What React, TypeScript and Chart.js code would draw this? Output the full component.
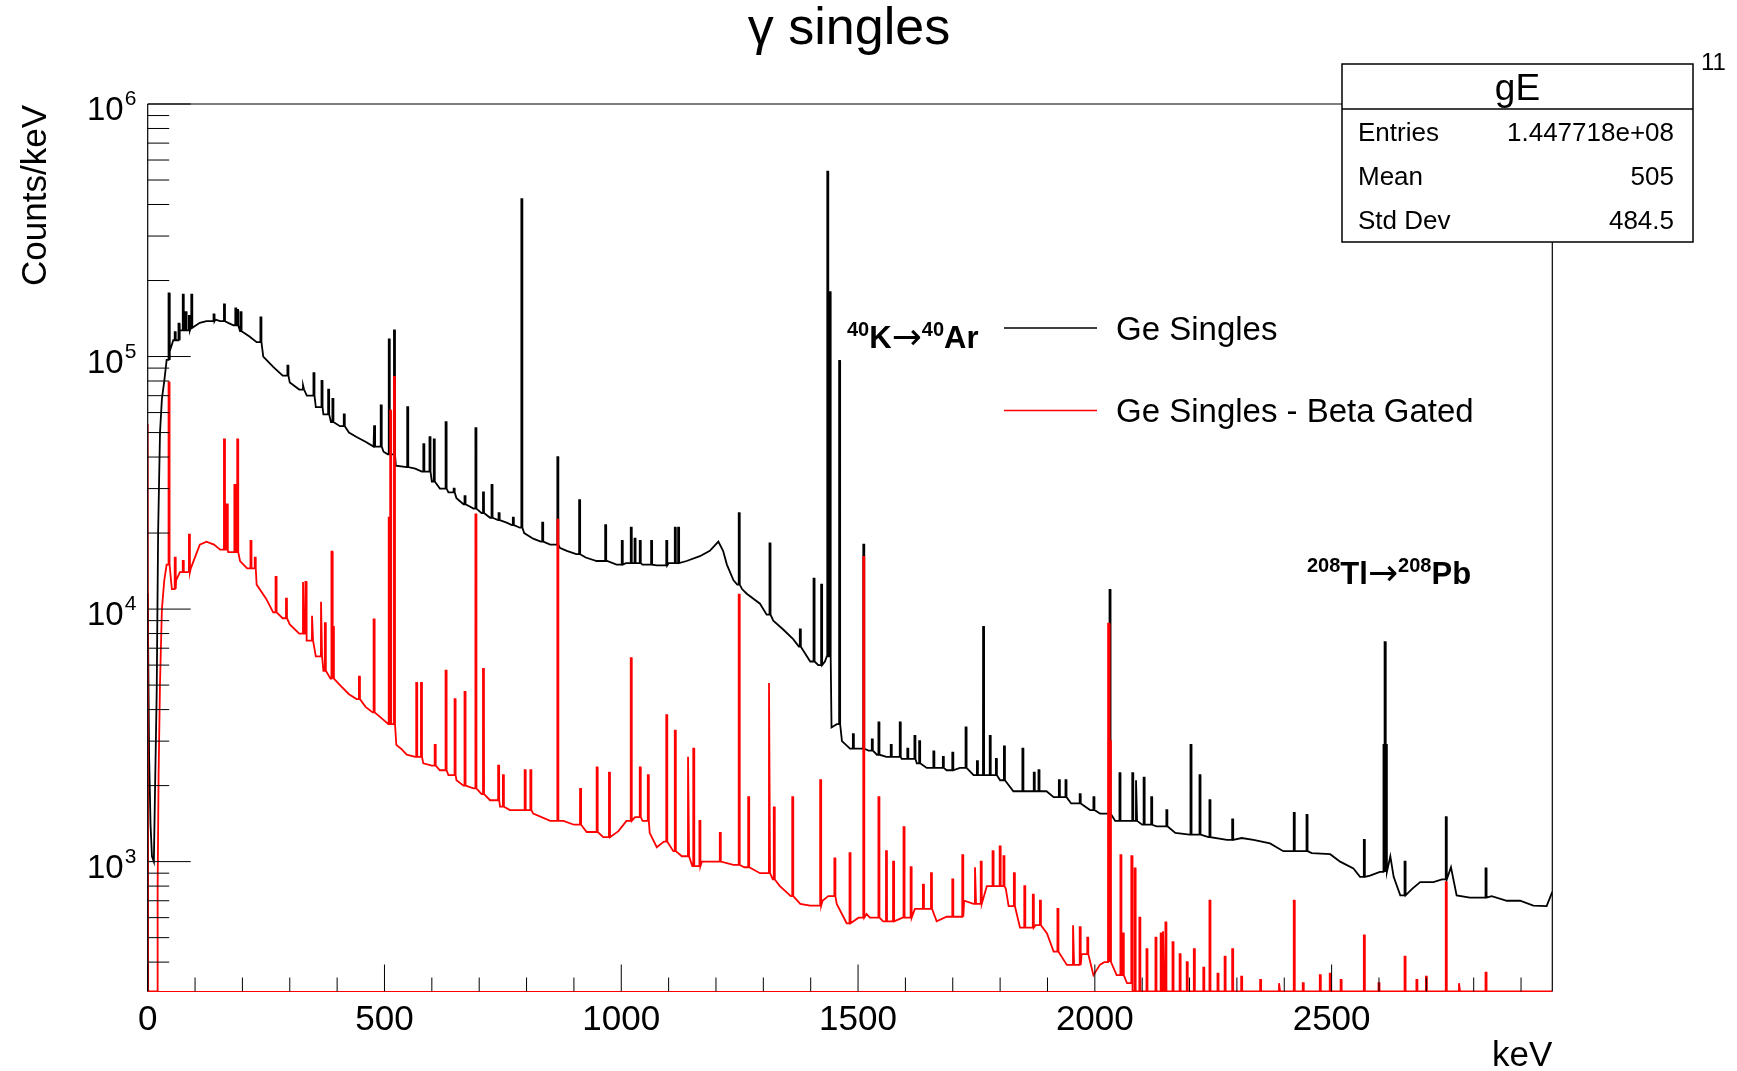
import { useEffect, useRef } from 'react';
import { Chart, registerables } from 'chart.js';

Chart.register(...registerables);

// ---------- axis ranges & tick labels ----------
const X_MIN = 0;
const X_MAX = 2966;
const Y_MIN = 306;
const Y_MAX = 1e6;
const xTickValues = [0, 500, 1000, 1500, 2000, 2500];
const xTickLabels = ['0', '500', '1000', '1500', '2000', '2500'];
const xMinorStep = 100;
const yDecadeValues = [1e3, 1e4, 1e5, 1e6];
const yDecadeExponents = ['3', '4', '5', '6'];

// ---------- texts ----------
const chartTitle = 'γ singles';
const xTitle = 'keV';
const yTitle = 'Counts/keV';
const statsTitle = 'gE';
const statsNames = ['Entries', 'Mean', 'Std Dev'];
const statsValues = ['1.447718e+08', '505', '484.5'];
const seriesNames = ['Ge Singles', 'Ge Singles - Beta Gated'];
const seriesColors = ['#000000', '#ff0000'];

// ---------- Ge singles (black): continuum samples ----------
const geContinuumKeV = [
  0, 3, 6, 9, 13, 16, 19, 22, 26, 30,
  35, 40, 47, 54, 68, 91, 110, 124, 143, 153,
  170, 181, 195, 215, 230, 244, 265, 285, 300, 320,
  336, 355, 371, 387, 406, 425, 441, 460, 477, 498,
  507, 524, 547, 565, 579, 600, 617, 635, 652, 667,
  688, 705, 723, 740, 758, 769, 786, 795, 814, 830,
  850, 870, 885, 905, 925, 948, 970, 990, 1010, 1045,
  1075, 1100, 1138, 1166, 1187, 1205, 1215, 1223, 1237, 1245,
  1255, 1265, 1293, 1307, 1321, 1342, 1363, 1375, 1399, 1416,
  1430, 1434, 1444, 1455, 1466, 1483, 1504, 1522, 1540, 1560,
  1592, 1624, 1645, 1687, 1715, 1744, 1783, 1800, 1828, 1860,
  1898, 1913, 1950, 1990, 2011, 2043, 2070, 2100, 2130, 2170,
  2200, 2240, 2279, 2310, 2335, 2370, 2398, 2435, 2458, 2497,
  2518, 2546, 2560, 2581, 2602, 2624, 2631, 2645, 2670, 2687,
  2715, 2733, 2752, 2764, 2792, 2838, 2870, 2898, 2926, 2954,
  2966,
];
const geContinuumCounts = [
  11500, 2600, 1400, 1050, 1000, 2200, 4700, 20000, 50000, 68000,
  80000, 97000, 105000, 116000, 127000, 130000, 136000, 138000, 140000, 138000,
  136000, 133000, 126000, 120000, 114000, 100000, 91000, 84000, 79000, 74000,
  70000, 63000, 59000, 55000, 53000, 50000, 48000, 46000, 44000, 42000,
  41000, 37000, 36500, 36000, 35000, 32000, 30000, 29000, 27500, 26000,
  25000, 24000, 23000, 22500, 22000, 21500, 21000, 20000, 19000, 18500,
  18000, 17500, 17000, 16500, 16000, 15500, 15500, 15000, 15200, 15000,
  14900, 15200, 15500, 16200, 17000, 18500, 17000, 15000, 13000, 12500,
  12000, 11500, 10500, 9500, 9000, 8300, 7600, 7100, 6200, 6000,
  6200, 6500, 3400, 3500, 3000, 2800, 2800, 2750, 2650, 2600,
  2550, 2450, 2350, 2300, 2350, 2200, 2200, 2100, 1900, 1900,
  1900, 1800, 1700, 1600, 1550, 1450, 1450, 1400, 1380, 1300,
  1280, 1250, 1220, 1240, 1220, 1180, 1100, 1100, 1080, 1070,
  1000, 940, 870, 880, 910, 1050, 870, 735, 780, 830,
  830, 850, 950, 735, 720, 730, 700, 700, 670, 667,
  760,
];
// ---------- Ge singles (black): peaks ----------
const gePeakKeV = [
  45, 58, 66, 75, 81, 88, 93, 140, 162, 186,
  190, 197, 239, 296, 329, 351, 368, 382, 391, 415,
  479, 493, 510, 521, 549, 583, 596, 605, 630, 647,
  670, 693, 709, 727, 742, 772, 790, 834, 866, 912,
  967, 1002, 1021, 1029, 1040, 1064, 1096, 1114, 1121, 1249,
  1314, 1378, 1407, 1423, 1436, 1441, 1461, 1490, 1512, 1530,
  1544, 1570, 1589, 1605, 1620, 1630, 1660, 1680, 1700, 1728,
  1752, 1765, 1779, 1792, 1809, 1848, 1872, 1882, 1925, 1939,
  1969, 1998, 2032, 2053, 2080, 2088, 2104, 2120, 2152, 2203,
  2222, 2243, 2291, 2421, 2448, 2569, 2610.5, 2613, 2615.5, 2655,
  2742, 2826,
];
const gePeakCounts = [
  178000, 125000, 135000, 176000, 150000, 145000, 176000, 147000, 161000, 155000,
  153000, 150000, 143000, 92000, 77000, 86000, 80000, 74000, 68000, 59000,
  53000, 64000, 117000, 127000, 63000, 45000, 48000, 47000, 55000, 30000,
  28000, 52000, 29000, 31000, 24000, 23000, 420000, 22000, 40000, 27000,
  21500, 18600, 21000, 19000, 18600, 18600, 18600, 21000, 21000, 24000,
  18200, 8300, 13200, 12500, 540000, 180000, 96000, 3200, 18000, 3050,
  3560, 2900, 3560, 2800, 3150, 3000, 2730, 2600, 2700, 3400,
  2500, 8500, 3150, 2550, 2860, 2800, 2250, 2300, 2100, 2100,
  1850, 1800, 11900, 2240, 2240, 2100, 2150, 1800, 1600, 2900,
  2200, 1750, 1470, 1560, 1530, 1220, 2900, 7400, 2900, 1000,
  1500, 940,
];

// ---------- Beta gated (red): continuum samples (0 = empty bin) ----------
const betaContinuumKeV = [
  0, 0, 1, 20, 21, 23, 26, 30, 35, 40,
  51, 60, 68, 91, 110, 124, 140, 153, 170, 195,
  210, 230, 250, 265, 285, 300, 320, 336, 355, 371,
  386, 406, 425, 441, 460, 475, 501, 508, 525, 535,
  547, 565, 582, 600, 617, 635, 652, 667, 688, 705,
  723, 744, 765, 785, 814, 850, 878, 900, 927, 962,
  994, 1011, 1029, 1045, 1060, 1075, 1090, 1110, 1128, 1150,
  1170, 1180, 1205, 1237, 1260, 1293, 1320, 1335, 1358, 1378,
  1399, 1425, 1437, 1455, 1476, 1501, 1518, 1525, 1553, 1594,
  1620, 1666, 1687, 1724, 1744, 1772, 1790, 1812, 1818, 1842,
  1875, 1899, 1913, 1941, 1972, 1997, 2011, 2020, 2046, 2068,
  2080, 2966,
];
const betaContinuumCounts = [
  0, 54000, 0, 0, 800, 2200, 5100, 10000, 13000, 15000,
  12000, 13000, 14000, 14500, 18000, 18500, 18000, 17200, 16800, 15500,
  14500, 12500, 11000, 9700, 9200, 8700, 8000, 7500, 6500, 5700,
  5300, 5000, 4600, 4400, 4100, 3900, 3600, 3500, 2900, 2800,
  2650, 2600, 2450, 2400, 2300, 2200, 2100, 2000, 1950, 1850,
  1750, 1650, 1600, 1600, 1550, 1450, 1450, 1400, 1310, 1250,
  1320, 1450, 1500, 1450, 1300, 1140, 1200, 1100, 1050, 960,
  1000, 1000, 1000, 970, 950, 900, 850, 800, 730, 680,
  670, 700, 730, 680, 570, 600, 620, 600, 580, 600,
  650, 580, 605, 700, 680, 800, 800, 780, 667, 548,
  560, 520, 440, 390, 430, 355, 391, 400, 355, 330,
  0, 0,
];
// ---------- Beta gated (red): peaks ----------
const betaPeakKeV = [
  45, 58, 75, 88, 162, 168, 184, 190, 218, 227,
  271, 293, 329, 334, 348, 367, 375, 389, 392, 447,
  478, 510, 513, 521, 568, 578, 607, 630, 649, 670,
  693, 709, 741, 751, 797, 809, 866, 914, 949, 975,
  1021, 1040, 1057, 1096, 1114, 1142, 1153, 1166, 1209, 1249,
  1269, 1313, 1323, 1362, 1421, 1451, 1483, 1512, 1544, 1560,
  1575, 1597, 1612, 1638, 1655, 1700, 1721, 1748, 1760, 1785,
  1800, 1808, 1830, 1852, 1870, 1885, 1922, 1955, 1969, 1985,
  2029, 2033, 2055, 2060, 2078, 2085, 2095, 2110, 2129, 2140,
  2145, 2150, 2165, 2180, 2195, 2210, 2230, 2243, 2260, 2275,
  2291, 2310, 2350, 2390, 2421, 2440, 2476, 2497, 2520, 2569,
  2600, 2655, 2680, 2700, 2742, 2770, 2826,
];
const betaPeakCounts = [
  79000, 16000, 15500, 19700, 47000, 26000, 31000, 47000, 18600, 16000,
  13400, 11000, 12800, 12800, 9400, 10700, 8800, 16900, 8500, 5400,
  9100, 23000, 61000, 83000, 5100, 5100, 2900, 5700, 4400, 4700,
  23700, 5800, 2400, 2200, 2300, 2300, 22600, 1940, 2360, 2250,
  6400, 2360, 2200, 3800, 3300, 2600, 2800, 1450, 1300, 11400,
  1800, 5100, 1640, 1800, 2100, 1030, 1080, 16100, 1800, 1100,
  1000, 1370, 950, 810, 900, 850, 1060, 950, 1000, 1100,
  1150, 1050, 900, 800, 740, 700, 650, 560, 550, 500,
  8750, 3000, 1060, 520, 1050, 940, 600, 450, 500, 520,
  530, 575, 480, 430, 400, 450, 380, 700, 360, 420,
  450, 350, 340, 330, 700, 330, 355, 360, 340, 510,
  330, 420, 340, 350, 830, 330, 363,
];

type Pt = { x: number; y: number };

// Histogram outline: continuum samples joined, each peak drawn as a narrow
// spike rising from the level of the preceding continuum sample.
// Empty bins (0) sit on the frame minimum, as in ROOT.
function buildHistogram(ck: number[], cc: number[], pk: number[], pc: number[]): Pt[] {
  const HALF_TOP = 1.0;
  const HALF_BASE = 1.2;
  const lvl = (v: number) => Math.max(v, Y_MIN);
  const out: Pt[] = [];
  let j = 0;
  let level = cc[0];
  const emitPeak = (k: number) => {
    out.push({ x: pk[k] - HALF_BASE, y: lvl(level) });
    out.push({ x: pk[k] - HALF_TOP, y: lvl(pc[k]) });
    out.push({ x: pk[k] + HALF_TOP, y: lvl(pc[k]) });
    out.push({ x: pk[k] + HALF_BASE, y: lvl(level) });
  };
  for (let i = 0; i < ck.length; i++) {
    while (j < pk.length && pk[j] - HALF_BASE < ck[i]) {
      emitPeak(j);
      j++;
    }
    out.push({ x: ck[i], y: lvl(cc[i]) });
    level = cc[i];
  }
  while (j < pk.length) {
    emitPeak(j);
    j++;
  }
  return out;
}

const FONT = "'Liberation Sans', Arial, Helvetica, sans-serif";
const ARROW_FONT = "'DejaVu Sans', 'Liberation Sans', sans-serif";

const rootStyle = {
  id: 'rootStyle',
  afterDraw(chart: any) {
    const { ctx, chartArea: a } = chart;
    const xs = chart.scales.x;
    const ys = chart.scales.y;
    const line = (x1: number, y1: number, x2: number, y2: number) => {
      ctx.beginPath();
      ctx.moveTo(x1, y1);
      ctx.lineTo(x2, y2);
      ctx.stroke();
    };
    ctx.save();

    // frame
    ctx.lineWidth = 1.2;
    ctx.strokeStyle = '#000';
    line(a.left, a.top, a.right, a.top);
    line(a.right, a.top, a.right, a.bottom);
    line(a.left, a.top, a.left, a.bottom);
    ctx.strokeStyle = seriesColors[1];
    line(a.left, a.bottom, a.right, a.bottom);

    // x ticks (inside the frame)
    ctx.strokeStyle = '#000';
    ctx.lineWidth = 1;
    for (let v = X_MIN; v <= X_MAX; v += xMinorStep) {
      const px = xs.getPixelForValue(v);
      const major = xTickValues.includes(v);
      line(px, a.bottom, px, a.bottom - (major ? 27 : 14));
    }
    // y ticks (log)
    for (const d of [100, 1000, 10000, 100000, 1000000]) {
      for (let m = 1; m <= 9; m++) {
        const v = m * d;
        if (v < Y_MIN || v > Y_MAX) continue;
        const py = ys.getPixelForValue(v);
        line(a.left, py, a.left + (m === 1 ? 43 : 21.5), py);
      }
    }

    ctx.fillStyle = '#000';
    ctx.textBaseline = 'alphabetic';
    // x labels
    ctx.font = `35px ${FONT}`;
    ctx.textAlign = 'center';
    xTickValues.forEach((v, i) => ctx.fillText(xTickLabels[i], xs.getPixelForValue(v), a.bottom + 38));
    // y labels
    yDecadeValues.forEach((v, i) => {
      const py = ys.getPixelForValue(v);
      ctx.font = `33px ${FONT}`;
      ctx.textAlign = 'right';
      ctx.fillText('10', a.left - 24, py + 16);
      ctx.font = `21px ${FONT}`;
      ctx.textAlign = 'left';
      ctx.fillText(yDecadeExponents[i], a.left - 23, py + 1);
    });

    // axis titles
    ctx.font = `35px ${FONT}`;
    ctx.textAlign = 'right';
    ctx.fillText(xTitle, a.right, 1066);
    ctx.save();
    ctx.translate(46, a.top + 1);
    ctx.rotate(-Math.PI / 2);
    ctx.textAlign = 'right';
    ctx.fillText(yTitle, 0, 0);
    ctx.restore();

    // title
    ctx.font = `52px ${FONT}`;
    ctx.textAlign = 'center';
    ctx.fillText(chartTitle, 849, 44);

    // stats box
    ctx.fillStyle = '#fff';
    ctx.fillRect(1342, 64, 351, 178);
    ctx.strokeStyle = '#000';
    ctx.lineWidth = 1.5;
    ctx.strokeRect(1342, 64, 351, 178);
    line(1342, 109, 1693, 109);
    ctx.fillStyle = '#000';
    ctx.font = `37px ${FONT}`;
    ctx.textAlign = 'center';
    ctx.fillText(statsTitle, 1517.5, 100);
    ctx.font = `26px ${FONT}`;
    statsNames.forEach((n, i) => {
      const y = 141 + 44 * i;
      ctx.textAlign = 'left';
      ctx.fillText(n, 1358, y);
      ctx.textAlign = 'right';
      ctx.fillText(statsValues[i], 1674, y);
    });
    ctx.font = `24px ${FONT}`;
    ctx.textAlign = 'left';
    ctx.fillText('11', 1701, 70);

    // legend
    const legendY = [328, 410.5];
    seriesNames.forEach((n, i) => {
      ctx.strokeStyle = seriesColors[i];
      ctx.lineWidth = 1.6;
      line(1004, legendY[i], 1097, legendY[i]);
      ctx.fillStyle = '#000';
      ctx.font = `33px ${FONT}`;
      ctx.textAlign = 'left';
      ctx.fillText(n, 1116, legendY[i] + 11.5);
    });

    // decay annotations
    type Part = { t: string; sup?: boolean; arrow?: boolean };
    const drawRich = (parts: Part[], x0: number, y: number) => {
      let x = x0;
      ctx.textAlign = 'left';
      for (const p of parts) {
        ctx.font = p.sup ? `bold 20px ${FONT}` : p.arrow ? `36px ${ARROW_FONT}` : `bold 31px ${FONT}`;
        ctx.fillText(p.t, x, p.sup ? y - 12 : p.arrow ? y + 1 : y);
        x += ctx.measureText(p.t).width;
      }
    };
    drawRich([{ t: '40', sup: true }, { t: 'K' }, { t: '→', arrow: true }, { t: '40', sup: true }, { t: 'Ar' }], 847, 348);
    drawRich([{ t: '208', sup: true }, { t: 'Tl' }, { t: '→', arrow: true }, { t: '208', sup: true }, { t: 'Pb' }], 1307, 584);

    ctx.restore();
  },
};

export default function App() {
  const ref = useRef<HTMLCanvasElement>(null);
  useEffect(() => {
    if (!ref.current) return;
    const gePts = buildHistogram(geContinuumKeV, geContinuumCounts, gePeakKeV, gePeakCounts);
    const betaPts = buildHistogram(betaContinuumKeV, betaContinuumCounts, betaPeakKeV, betaPeakCounts);
    const chart = new Chart(ref.current, {
      type: 'line',
      data: {
        datasets: [
          {
            label: seriesNames[1],
            data: betaPts,
            borderColor: seriesColors[1],
            borderWidth: 1.8,
            pointRadius: 0,
            fill: false,
            tension: 0,
            order: 0,
          },
          {
            label: seriesNames[0],
            data: gePts,
            borderColor: seriesColors[0],
            borderWidth: 1.8,
            pointRadius: 0,
            fill: false,
            tension: 0,
            order: 1,
          },
        ],
      },
      options: {
        animation: false,
        responsive: false,
        maintainAspectRatio: false,
        devicePixelRatio: 1,
        events: [],
        layout: { padding: { left: 147.7, top: 104, right: 184.7, bottom: 79.5 } },
        scales: {
          x: { type: 'linear', min: X_MIN, max: X_MAX, display: false },
          y: { type: 'logarithmic', min: Y_MIN, max: Y_MAX, display: false },
        },
        plugins: {
          legend: { display: false },
          tooltip: { enabled: false },
          title: { display: false },
        },
      },
      plugins: [rootStyle],
    } as any);
    return () => chart.destroy();
  }, []);
  return (
    <div style={{ position: 'absolute', left: 0, top: 0, width: 1737, height: 1071, background: '#fff' }}>
      <canvas ref={ref} width={1737} height={1071} style={{ display: 'block', width: 1737, height: 1071 }} />
    </div>
  );
}
